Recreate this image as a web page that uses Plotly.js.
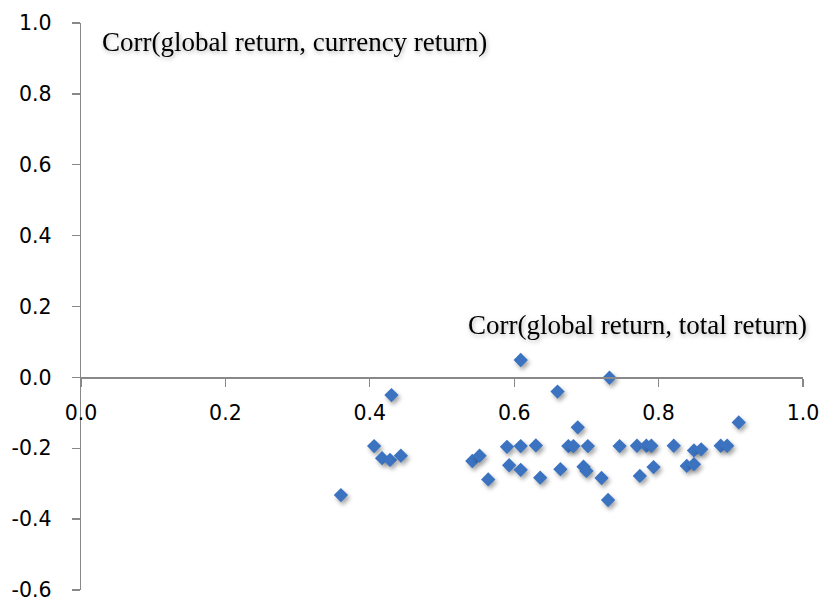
<!DOCTYPE html>
<html>
<head>
<meta charset="utf-8">
<script src="https://cdn.plot.ly/plotly-3.0.1.min.js"></script>
<style>
html,body{margin:0;padding:0;background:#fff;}
#chart{width:825px;height:606px;}
.scatterlayer .point{filter:drop-shadow(2px 3px 2px rgba(0,0,0,0.35));}
.annotation-text{filter:drop-shadow(1px 2px 2px rgba(0,0,0,0.3));}
</style>
</head>
<body>
<div id="chart"></div>
<script>
// Corr(global return, total return)
const corrTotal = [0.360,0.406,0.417,0.428,0.430,0.443,0.542,0.552,0.564,0.590,0.593,0.609,0.609,0.609,0.630,0.636,0.660,0.664,0.675,0.682,0.688,0.696,0.700,0.702,0.721,0.730,0.732,0.746,0.770,0.774,0.783,0.790,0.793,0.821,0.839,0.849,0.849,0.859,0.886,0.895,0.911];
// Corr(global return, currency return)
const corrCurrency = [-0.332,-0.194,-0.228,-0.233,-0.050,-0.221,-0.236,-0.221,-0.288,-0.196,-0.248,0.049,-0.194,-0.261,-0.192,-0.283,-0.040,-0.259,-0.194,-0.194,-0.141,-0.252,-0.264,-0.194,-0.284,-0.346,-0.001,-0.194,-0.193,-0.278,-0.193,-0.193,-0.253,-0.193,-0.250,-0.206,-0.245,-0.203,-0.193,-0.193,-0.127];
const xTicks = [0.0,0.2,0.4,0.6,0.8,1.0];
const yTicks = [-0.6,-0.4,-0.2,0.0,0.2,0.4,0.6,0.8,1.0];
const yLabel = 'Corr(global return, currency return)';
const xLabel = 'Corr(global return, total return)';

const trace = {
  x: corrTotal, y: corrCurrency, type: 'scatter', mode: 'markers',
  marker: {symbol: 'diamond', size: 11, color: '#3B73C0', line: {width: 0}},
  hoverinfo: 'x+y'
};
const tickFont = {family: 'DejaVu Sans', size: 20.5, color: '#000'};
const layout = {
  width: 825, height: 606,
  margin: {l: 81, r: 22, t: 23, b: 16},
  paper_bgcolor: '#fff', plot_bgcolor: '#fff',
  showlegend: false,
  xaxis: {
    range: [0, 1.0], tickvals: xTicks, ticktext: xTicks.map(v => v.toFixed(1)),
    anchor: 'free', position: 0.375,
    showgrid: false, zeroline: false, showline: true, linecolor: '#888', linewidth: 1.3,
    ticks: 'outside', ticklen: 8, tickcolor: '#888', tickwidth: 1.3,
    ticklabelstandoff: 9, tickfont: tickFont
  },
  yaxis: {
    range: [-0.6, 1.0], tickvals: yTicks, ticktext: yTicks.map(v => v.toFixed(1)),
    showgrid: false, zeroline: false, showline: true, linecolor: '#888', linewidth: 1.3,
    ticks: 'outside', ticklen: 8, tickcolor: '#888', tickwidth: 1.3,
    ticklabelstandoff: 16, tickfont: tickFont
  },
  annotations: [
    {text: yLabel, x: 0.026, y: 0.946, xref: 'x', yref: 'y', xanchor: 'left', yanchor: 'middle', showarrow: false,
     font: {family: 'Liberation Serif', size: 27, color: '#000'}},
    {text: xLabel, x: 0.533, y: 0.148, xref: 'x', yref: 'y', xanchor: 'left', yanchor: 'middle', showarrow: false,
     font: {family: 'Liberation Serif', size: 27, color: '#000'}}
  ]
};
Plotly.newPlot('chart', [trace], layout, {displayModeBar: false, staticPlot: true});
</script>
</body>
</html>
